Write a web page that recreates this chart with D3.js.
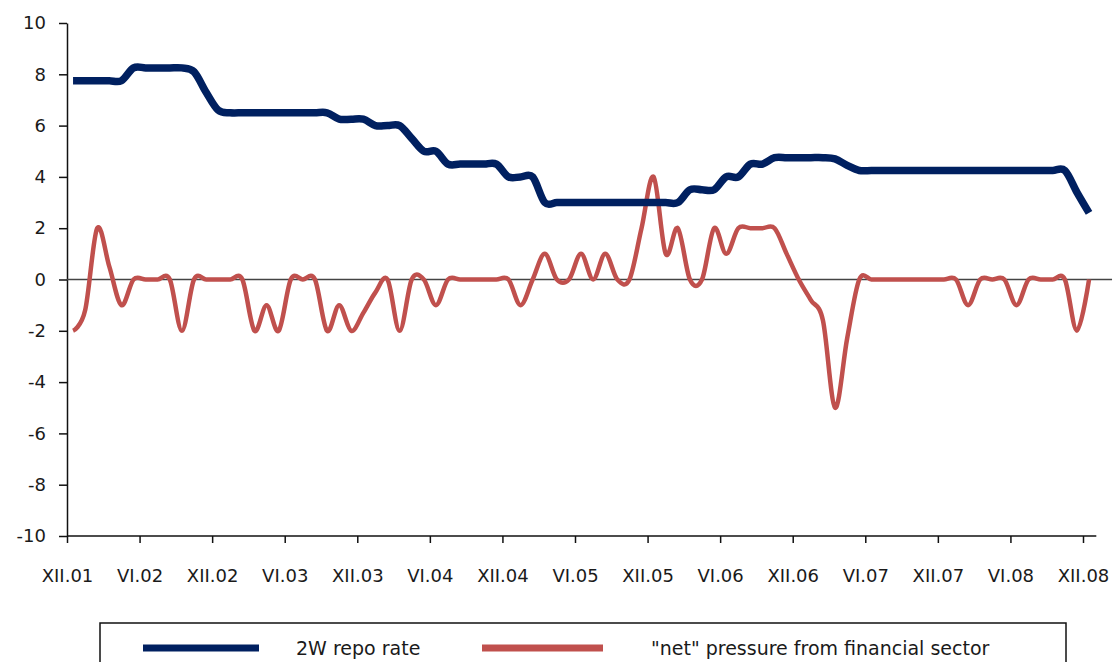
<!DOCTYPE html>
<html>
<head>
<meta charset="utf-8">
<script src="https://cdn.jsdelivr.net/npm/d3@7"></script>
<style>
    html, body { margin: 0; padding: 0; background: #fff; }
    svg { display: block; }
    svg text { font-family: "DejaVu Sans", sans-serif; fill: #1a1a1a; }
</style>
</head>
<body>
<svg id="vis" width="1120" height="662"></svg>
<script>
// monthly values, XII.01 .. XII.08
const tickLabels = ["XII.01", "VI.02", "XII.02", "VI.03", "XII.03", "VI.04", "XII.04", "VI.05",
    "XII.05", "VI.06", "XII.06", "VI.07", "XII.07", "VI.08", "XII.08"];

const repoRate = [
    7.75, 7.75, 7.75, 7.75, 7.75, 8.25, 8.25, 8.25, 8.25, 8.25,
    8.1, 7.3, 6.6, 6.5, 6.5, 6.5, 6.5, 6.5, 6.5, 6.5,
    6.5, 6.5, 6.25, 6.25, 6.25, 6.0, 6.0, 6.0, 5.5, 5.0,
    5.0, 4.5, 4.5, 4.5, 4.5, 4.5, 4.0, 4.0, 4.0, 3.0,
    3.0, 3.0, 3.0, 3.0, 3.0, 3.0, 3.0, 3.0, 3.0, 3.0,
    3.0, 3.5, 3.5, 3.5, 4.0, 4.0, 4.5, 4.5, 4.75, 4.75,
    4.75, 4.75, 4.75, 4.7, 4.45, 4.25, 4.25, 4.25, 4.25, 4.25,
    4.25, 4.25, 4.25, 4.25, 4.25, 4.25, 4.25, 4.25, 4.25, 4.25,
    4.25, 4.25, 4.25, 3.4, 2.6
];

const netPressure = [
    -2, -1.2, 2, 0.5, -1, 0, 0, 0, 0, -2,
    0, 0, 0, 0, 0, -2, -1, -2, 0, 0,
    0, -2, -1, -2, -1.3, -0.5, 0, -2, 0, 0,
    -1, 0, 0, 0, 0, 0, 0, -1, 0, 1,
    0, 0, 1, 0, 1, 0, 0, 2, 4, 1,
    2, 0, 0, 2, 1, 2, 2, 2, 2, 1,
    0, -0.8, -1.6, -5, -2.3, 0, 0, 0, 0, 0,
    0, 0, 0, 0, -1, 0, 0, 0, -1, 0,
    0, 0, 0, -2, 0
];

const yTicks = [-10, -8, -6, -4, -2, 0, 2, 4, 6, 8, 10];
const seriesNames = ["2W repo rate", "\"net\" pressure from financial sector"];
const seriesColors = ["#002060", "#C0504D"];

const svg = d3.select("#vis");

// months since XII.01; labels every 6 months
const x = d3.scaleLinear().domain([0, 84]).range([67, 1083]);
const y = d3.scaleLinear().domain([-10, 10]).range([536, 23]);

// y axis
const yAxis = svg.append("g")
    .attr("transform", "translate(67,0)")
    .call(d3.axisLeft(y)
        .tickValues(yTicks)
        .tickFormat(function (d) { return String(d); })
        .tickSize(8).tickSizeOuter(0).tickPadding(13));

yAxis.select(".domain").attr("stroke", "#111").attr("stroke-width", 1.5);
yAxis.selectAll(".tick line").attr("stroke", "#111").attr("stroke-width", 1.5);
yAxis.selectAll(".tick text")
    .style("font-size", "18px");

// x axis
const xAxis = svg.append("g")
    .attr("transform", "translate(0,536)")
    .call(d3.axisBottom(x)
        .tickValues(d3.range(0, 85, 6))
        .tickFormat(function (d, i) { return tickLabels[i]; })
        .tickSize(7).tickSizeOuter(0).tickPadding(26));

xAxis.select(".domain").remove();
xAxis.append("line")
    .attr("x1", x(0))
    .attr("x2", x(85.1))
    .attr("stroke", "#111")
    .attr("stroke-width", 1.5);
xAxis.selectAll(".tick line").attr("stroke", "#111").attr("stroke-width", 1.5);
xAxis.selectAll(".tick text")
    .style("font-size", "18px");

// zero line
svg.append("line")
    .attr("x1", x(0))
    .attr("x2", x(86.4))
    .attr("y1", y(0))
    .attr("y2", y(0))
    .attr("stroke", "#444")
    .attr("stroke-width", 1.5);

// lines
const line = d3.line()
    .x(function (d, i) { return x(i + 0.5); })
    .y(function (d) { return y(d); })
    .curve(d3.curveCatmullRom.alpha(0));

svg.append("path")
    .datum(netPressure)
    .attr("d", line)
    .attr("fill", "none")
    .attr("stroke", seriesColors[1])
    .attr("stroke-width", 4.5)
    .attr("stroke-linejoin", "round");

svg.append("path")
    .datum(repoRate)
    .attr("d", line)
    .attr("fill", "none")
    .attr("stroke", seriesColors[0])
    .attr("stroke-width", 7.5)
    .attr("stroke-linejoin", "round");

// legend
const legend = svg.append("g");

legend.append("rect")
    .attr("x", 100)
    .attr("y", 623)
    .attr("width", 966)
    .attr("height", 60)
    .attr("fill", "#fff")
    .attr("stroke", "#111")
    .attr("stroke-width", 1.5);

const legendItems = [
    {x1: 143, x2: 259, tx: 296},
    {x1: 482, x2: 603, tx: 651}
];

legendItems.forEach(function (item, i) {
    legend.append("line")
        .attr("x1", item.x1)
        .attr("x2", item.x2)
        .attr("y1", 648)
        .attr("y2", 648)
        .attr("stroke", seriesColors[i])
        .attr("stroke-width", 7);

    legend.append("text")
        .attr("x", item.tx)
        .attr("y", 648)
        .attr("dy", "0.35em")
        .style("font-size", "19px")
        .text(seriesNames[i]);
});
</script>
</body>
</html>
